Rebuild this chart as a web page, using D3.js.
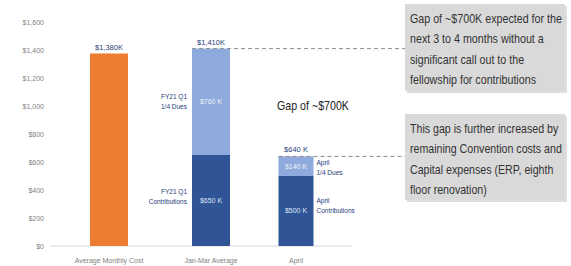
<!DOCTYPE html>
<html>
<head>
<meta charset="utf-8">
<script src="https://cdn.jsdelivr.net/npm/d3@7"></script>
<style>
  body { margin: 0; background: #fff; }
  text { font-family: "Liberation Sans", Arial, sans-serif; }
</style>
</head>
<body>
<div id="plot"></div>
<script>
// Data
let categories = ['Average Monthly Cost', 'Jan-Mar Average', 'April']
let duesValues = [0, 760, 140]
let contribValues = [0, 650, 500]
let costValues = [1375, 0, 0]
let totalLabels = ['$1,380K', '$1,410K', '$640 K']
let duesLabels = ['', '$760 K', '$140 K']
let contribLabels = ['', '$650 K', '$500 K']
let yTicks = [0, 200, 400, 600, 800, 1000, 1200, 1400, 1600]
let gapLabel = 'Gap of ~$700K'
let note1 = ['Gap of ~$700K expected for the', 'next 3 to 4 months without a', 'significant call out to the', 'fellowship for contributions']
let note2 = ['This gap is further increased by', 'remaining Convention costs and', 'Capital expenses (ERP, eighth', 'floor renovation)']

// Plot constants
let W = 571, H = 266
let navy = '#1F3D7A'
let orange = '#ED7D31', light = '#8FAADC', dark = '#2F5597'

let svg = d3.select('#plot').append('svg')
  .attr('width', W).attr('height', H)

let y = d3.scaleLinear().domain([0, 1600]).range([246, 22])
let x = d3.scaleOrdinal().domain(categories).range([109, 211, 296])
let barW = d3.scaleOrdinal().domain(categories).range([38, 38, 35])

// Y axis labels
let yAxis = d3.axisLeft(y).tickValues(yTicks)
  .tickFormat(d => d3.format('$,')(d)).tickSize(0).tickPadding(0)
svg.append('g').attr('transform', 'translate(44,0)').call(yAxis)
  .call(g => g.select('.domain').remove())
  .call(g => g.selectAll('text').attr('fill', '#7f7f7f').style('font-size', '7px')
    .style('font-family', '"Liberation Sans", sans-serif'))

// Baseline
svg.append('line').attr('x1', 50).attr('x2', 352)
  .attr('y1', y(0)).attr('y2', y(0)).attr('stroke', '#d9d9d9').attr('stroke-width', 1)

// Category labels
svg.selectAll('.cat').data(categories).enter().append('text')
  .attr('x', d => x(d)).attr('y', 263).attr('text-anchor', 'middle')
  .attr('fill', '#7f7f7f').style('font-size', '7px').text(d => d)

// Bars
let rows = categories.map((c, i) => ({c, i, cost: costValues[i], contrib: contribValues[i], dues: duesValues[i]}))
rows.forEach(r => {
  let x0 = x(r.c) - barW(r.c) / 2, w = barW(r.c)
  if (r.cost) {
    svg.append('rect').attr('x', x0).attr('width', w)
      .attr('y', y(r.cost)).attr('height', y(0) - y(r.cost)).attr('fill', orange)
  }
  if (r.contrib) {
    svg.append('rect').attr('x', x0).attr('width', w)
      .attr('y', y(r.contrib)).attr('height', y(0) - y(r.contrib)).attr('fill', dark)
    svg.append('rect').attr('x', x0).attr('width', w)
      .attr('y', y(r.contrib + r.dues)).attr('height', y(r.contrib) - y(r.contrib + r.dues)).attr('fill', light)
    // inside labels
    svg.append('text').attr('x', x(r.c)).attr('y', (y(r.contrib) + y(0)) / 2 + 2)
      .attr('text-anchor', 'middle').attr('fill', '#dfe6f4').style('font-size', '7px').text(contribLabels[r.i])
    svg.append('text').attr('x', x(r.c)).attr('y', (y(r.contrib) + y(r.contrib + r.dues)) / 2 + 2.5)
      .attr('text-anchor', 'middle').attr('fill', '#eef2fa').style('font-size', '7px').text(duesLabels[r.i])
  }
  let top = r.cost || (r.contrib + r.dues)
  svg.append('text').attr('x', x(r.c)).attr('y', y(top) - 4)
    .attr('text-anchor', 'middle').attr('fill', navy).style('font-size', '7.5px').text(totalLabels[r.i])
})

// Side labels
function sideLabel(lines, xp, yp, anchor) {
  let t = svg.append('text').attr('x', xp).attr('y', yp).attr('text-anchor', anchor)
    .attr('fill', navy).style('font-size', '6.5px')
  lines.forEach((l, k) => t.append('tspan').attr('x', xp).attr('dy', k ? 10 : 0).text(l))
}
let jan = categories[1], apr = categories[2]
sideLabel(['FY21 Q1', '1/4 Dues'], x(jan) - barW(jan) / 2 - 5, (y(contribValues[1]) + y(contribValues[1] + duesValues[1])) / 2 - 3, 'end')
sideLabel(['FY21 Q1', 'Contributions'], x(jan) - barW(jan) / 2 - 5, (y(0) + y(contribValues[1])) / 2 - 7, 'end')
sideLabel(['April', '1/4 Dues'], x(apr) + barW(apr) / 2 + 3, y(contribValues[2] + duesValues[2]) + 9, 'start')
sideLabel(['April', 'Contributions'], x(apr) + barW(apr) / 2 + 3, (y(0) + y(contribValues[2])) / 2 - 8, 'start')

// Gap label (condensed)
let gapG = svg.append('g').attr('transform', 'translate(277,110) scale(0.82,1)')
gapG.append('text').attr('fill', '#222').style('font-size', '13px').text(gapLabel)

// Dashed connectors
let janTop = contribValues[1] + duesValues[1], aprTop = contribValues[2] + duesValues[2]
svg.append('line').attr('x1', x(jan) - barW(jan) / 2).attr('x2', 405)
  .attr('y1', y(janTop)).attr('y2', y(janTop))
  .attr('stroke', '#8c8c8c').attr('stroke-width', 1).attr('stroke-dasharray', '4,3')
svg.append('line').attr('x1', x(apr) - barW(apr) / 2).attr('x2', 405)
  .attr('y1', y(aprTop)).attr('y2', y(aprTop))
  .attr('stroke', '#8c8c8c').attr('stroke-width', 1).attr('stroke-dasharray', '4,3')

// Callout boxes, text squeezed to fit 152px like the condensed original font
function callout(lines, yTop, h) {
  svg.append('rect').attr('x', 407).attr('y', yTop + 2).attr('width', 160).attr('height', h)
    .attr('fill', '#bdbdbd').attr('opacity', 0.5)
  svg.append('rect').attr('x', 405).attr('y', yTop).attr('width', 160).attr('height', h)
    .attr('fill', '#d9d9d9')
  let g = svg.append('g')
  let t = g.append('text').attr('x', 0).attr('y', 0)
    .attr('fill', '#333').style('font-size', '12.5px')
  lines.forEach((l, k) => t.append('tspan').attr('x', 0).attr('dy', k ? 20.5 : 0).text(l))
  let widest = d3.max(t.selectAll('tspan').nodes(), n => n.getComputedTextLength())
  let k = Math.min(1, 152 / widest)
  g.attr('transform', `translate(410,${yTop + 19}) scale(${k},1)`)
}
callout(note1, 4, 87)
callout(note2, 114, 86)
</script>
</body>
</html>
